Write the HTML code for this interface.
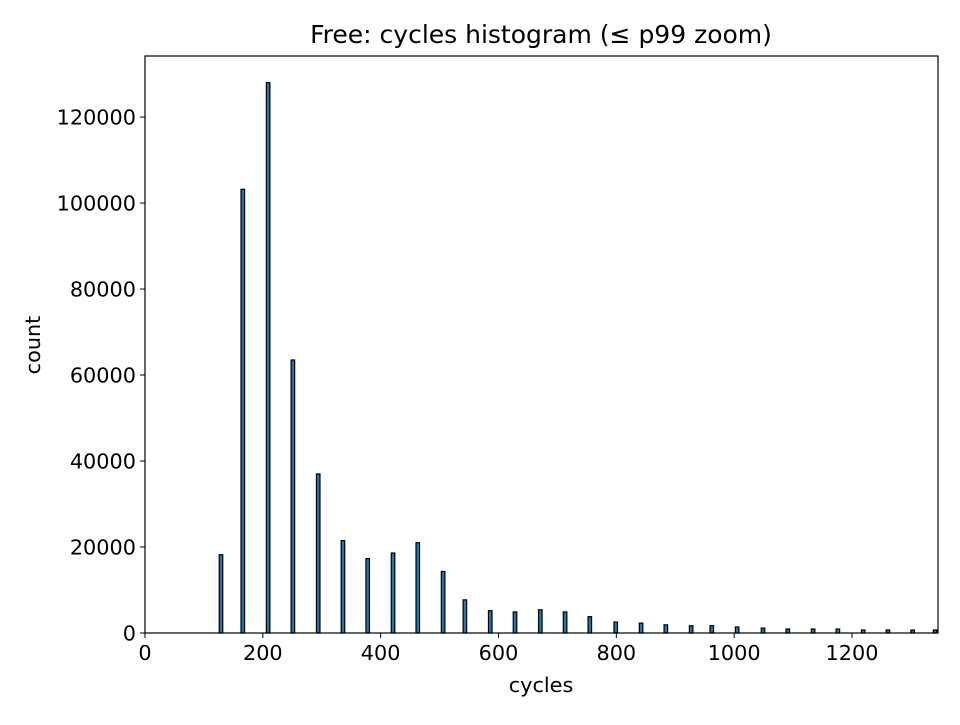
<!DOCTYPE html>
<html><head><meta charset="utf-8"><style>
body{margin:0;background:#fff;}
svg text{font-family:"DejaVu Sans","Liberation Sans",sans-serif;fill:#000;}
</style></head><body>
<svg id="chart" width="960" height="720" xmlns="http://www.w3.org/2000/svg">
<rect width="960" height="720" fill="#fff"/>
<text x="541" y="43" font-size="25" text-anchor="middle">Free: cycles histogram (≤ p99 zoom)</text>
<g id="bars"></g>
<g id="xticks"></g>
<g id="yticks"></g>
<rect x="145" y="56" width="793" height="577" fill="none" stroke="#000" stroke-width="1.2"/>
<text x="541" y="692" font-size="20.8" text-anchor="middle">cycles</text>
<text x="40" y="345" font-size="20.8" text-anchor="middle" transform="rotate(-90 40 345)">count</text>
</svg>
<script>
const binCenters=[129,166,209,251,294,336,378,421,463,506,543,586,628,671,713,755,799,842,884,927,962,1005,1049,1091,1134,1176,1219,1261,1303,1341];
const counts=[18200,103200,128000,63500,37000,21500,17300,18600,21000,14300,7700,5200,4900,5400,4900,3800,2550,2300,1900,1700,1700,1400,1150,930,930,930,700,700,700,700];
const xTicks=[0,200,400,600,800,1000,1200];
const yTicks=[0,20000,40000,60000,80000,100000,120000];
const X0=145,X1=938,Y0=633,Y1=56,XMAX=1346,YMAX=134200,BW=6;
const xs=v=>X0+(v/XMAX)*(X1-X0);
const ys=v=>Y0-(v/YMAX)*(Y0-Y1);
const NS="http://www.w3.org/2000/svg";
const bars=document.getElementById('bars');
binCenters.forEach((c,i)=>{
 const r=document.createElementNS(NS,'rect');
 const xl=xs(c-BW/2),xr=xs(c+BW/2);
 r.setAttribute('x',xl);r.setAttribute('width',xr-xl);
 r.setAttribute('y',ys(counts[i]));r.setAttribute('height',Y0-ys(counts[i]));
 r.setAttribute('fill','#1f77b4');r.setAttribute('stroke','#000');r.setAttribute('stroke-width','1.2');
 
 
 bars.appendChild(r);
});
const xg=document.getElementById('xticks');
xTicks.forEach(t=>{
 const x=xs(t);
 const l=document.createElementNS(NS,'line');
 l.setAttribute('x1',x);l.setAttribute('x2',x);l.setAttribute('y1',Y0);l.setAttribute('y2',Y0+5);l.setAttribute('stroke','#000');
 
 
 xg.appendChild(l);
 const tx=document.createElementNS(NS,'text');
 tx.setAttribute('x',x);tx.setAttribute('y',Y0+27);tx.setAttribute('font-size','20.8');tx.setAttribute('text-anchor','middle');
 tx.textContent=t;
 
 
 xg.appendChild(tx);
});
const yg=document.getElementById('yticks');
yTicks.forEach(t=>{
 const y=ys(t);
 const l=document.createElementNS(NS,'line');
 l.setAttribute('x1',X0-5);l.setAttribute('x2',X0);l.setAttribute('y1',y);l.setAttribute('y2',y);l.setAttribute('stroke','#000');
 
 
 yg.appendChild(l);
 const tx=document.createElementNS(NS,'text');
 tx.setAttribute('x',X0-9);tx.setAttribute('y',y+7.5);tx.setAttribute('font-size','20.8');tx.setAttribute('text-anchor','end');
 tx.textContent=t;
 
 
 yg.appendChild(tx);
});
</script>
</body></html>
